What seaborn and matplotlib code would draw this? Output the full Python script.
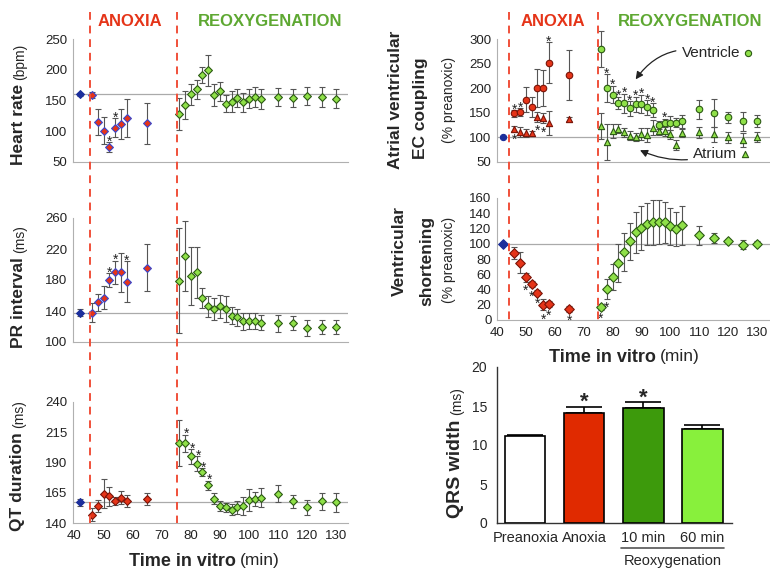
import matplotlib
matplotlib.use("Agg")
import matplotlib.pyplot as plt
from matplotlib.lines import Line2D
import numpy as np
import pandas as pd
import seaborn as sns

# time points (min)
t_pre = [42]
t_anox = [46, 48, 50, 52, 54, 56, 58, 65]
t_reox = [76, 78, 80, 82, 84, 86, 88, 90, 92, 94, 96, 98, 100, 102, 104, 110, 115, 120, 125, 130]

# heart rate (bpm)
hr_pre, hr_pre_err = [160], [3]
hr_anox = [159, 115, 101, 74, 106, 112, 122, 113]
hr_anox_err = [5, 21, 22, 8, 15, 24, 31, 33]
hr_reox = [128, 143, 160, 168, 192, 199, 159, 165, 145, 148, 154, 147, 153, 156, 152, 156, 154, 157, 156, 153]
hr_reox_err = [26, 23, 17, 16, 13, 25, 18, 15, 14, 17, 15, 15, 15, 16, 16, 15, 15, 15, 16, 16]
hr_star = [52, 54]

# PR interval (ms)
pr_pre, pr_pre_err = [138], [4]
pr_anox = [138, 151, 157, 180, 190, 190, 178, 196]
pr_anox_err = [12, 11, 15, 9, 15, 25, 26, 30]
pr_reox = [179, 211, 185, 190, 157, 146, 143, 146, 143, 134, 132, 127, 127, 127, 125, 124, 124, 118, 119, 119]
pr_reox_err = [68, 45, 37, 33, 13, 14, 14, 15, 17, 11, 11, 11, 10, 10, 10, 11, 9, 10, 9, 9]
pr_star = [52, 54, 58]

# QT duration (ms)
qt_pre, qt_pre_err = [157], [3]
qt_anox = [147, 154, 164, 162, 158, 161, 158, 160]
qt_anox_err = [5, 5, 12, 8, 3.5, 5.5, 5, 5]
qt_reox = [206, 206, 195, 189, 182, 171, 160, 154, 153, 151, 153, 154, 159, 160, 161, 164, 158, 153, 158, 157]
qt_reox_err = [19, 7, 6, 6, 3.5, 4, 4.5, 4, 3.5, 4.5, 5.5, 7.5, 9, 6, 8, 7, 5.5, 6, 7, 7.5]
qt_star = [78, 80, 82, 84, 86]

# atrial-ventricular EC coupling (% preanoxic)
ec_pre, ec_pre_err = [100], [2]
ven_anox = [149, 152, 177, 162, 200, 200, 252, 227]
ven_anox_err = [7, 8, 25, 20, 39, 37, 41, 51]
atr_anox = [118, 111, 109, 108, 142, 139, 129, 137]
atr_anox_err = [5, 10, 8, 6, 10, 10, 25, 4]
ven_reox = [280, 200, 187, 170, 169, 159, 167, 168, 161, 156, 125, 130, 129, 130, 133, 157, 150, 141, 133, 134]
ven_reox_err = [36, 28, 18, 13, 20, 15, 16, 19, 15, 14, 8, 8, 14, 9, 13, 20, 29, 11, 19, 12]
atr_reox = [123, 91, 113, 118, 110, 103, 100, 107, 105, 120, 113, 113, 106, 84, 109, 110, 106, 100, 94, 101]
atr_reox_err = [27, 36, 15, 10, 10, 9, 8, 12, 14, 15, 8, 10, 9, 10, 9, 12, 16, 11, 14, 10]
ven_star = [46, 48, 58, 76, 78, 80, 82, 84, 86, 88, 90, 92, 94, 98]
atr_star = [46, 54, 56]

# ventricular shortening (% preanoxic)
vs_pre, vs_pre_err = [100], [1]
vs_anox = [88, 75, 56, 47, 36, 20, 21, 15]
vs_anox_err = [8, 14, 6, 4, 3, 7, 4, 4]
vs_reox = [17.5, 41, 57, 75, 89, 103, 115, 121, 126, 128, 129, 128, 123, 119, 124, 111, 108, 104, 99, 100]
vs_reox_err = [4, 13, 17, 25, 25, 24, 27, 29, 28, 30, 29, 27, 24, 22, 26, 12, 6.5, 2, 5.5, 3.5]
vs_star = [50, 52, 54, 56, 58, 65, 76, 78]

# QRS width (ms)
qrs_labels = ["Preanoxia", "Anoxia", "10 min", "60 min"]
qrs_vals = [11.1, 14.1, 14.7, 12.0]
qrs_err = [0.2, 0.8, 0.8, 0.6]
qrs_star = [False, True, True, False]
qrs_colors = ["#ffffff", "#e02a00", "#3d9a0c", "#88f03c"]

BLUE = "#1c2f9c"
RED = "#e53418"
GREEN = "#8fe048"
DARKGREEN = "#2c5a14"
DASH = "#f0503a"

sns.set_style("white")
plt.rcParams["font.family"] = ["Liberation Sans", "DejaVu Sans"]

W, H = 770, 570
fig = plt.figure(figsize=(W / 100, H / 100), dpi=100)


def px_axes(left, top, right, bottom):
    return fig.add_axes([left / W, 1 - bottom / H, (right - left) / W, (bottom - top) / H])


def style_time_axis(ax, yticks, labels=False, xlim=(39.5, 134)):
    ax.set_xlim(*xlim)
    ax.set_ylim(yticks[0], yticks[-1])
    ax.set_yticks(yticks)
    ax.set_xticks(range(40, 131, 10))
    ax.set_xticks(range(45, 135, 10), minor=True)
    for side in ["top", "right"]:
        ax.spines[side].set_visible(False)
    for side in ["left", "bottom"]:
        ax.spines[side].set_color("#b0b0b0")
        ax.spines[side].set_linewidth(0.8)
    ax.tick_params(which="both", direction="out", length=3, width=0.7, color="#b0b0b0",
                   labelsize=9.5, labelcolor="#222222", pad=2)
    ax.tick_params(axis="y", length=0, pad=4)
    if not labels:
        ax.set_xticklabels([])
    ax.set_xlabel("")
    ax.set_ylabel("")


def draw_series(ax, t, y, err, face, edge, marker, size, cap=2.5):
    ax.errorbar(t, y, yerr=err, fmt="none", ecolor="#555555", elinewidth=0.8,
                capsize=cap, capthick=0.8, zorder=2, clip_on=False)
    sns.scatterplot(x=t, y=y, ax=ax, color=face, edgecolor=edge, marker=marker, s=size,
                    linewidth=0.8, zorder=3, legend=False, clip_on=False)


def add_stars(ax, t, y, err, which, below=False, dx=0):
    for ti, yi, ei in zip(t, y, err):
        if ti in which:
            if below:
                ax.annotate("*", (ti, yi - ei), xytext=(dx, -9.5), textcoords="offset points",
                            ha="center", va="baseline", fontsize=10, color="#222222")
            else:
                ax.annotate("*", (ti, yi + ei), xytext=(dx, -2.5), textcoords="offset points",
                            ha="center", va="baseline", fontsize=10, color="#222222")


def panel(ax, pre, pre_err, anox, anox_err, reox, reox_err, anox_edge, marker, size):
    draw_series(ax, t_pre, pre, pre_err, BLUE, BLUE, marker, size)
    draw_series(ax, t_anox, anox, anox_err, RED, anox_edge, marker, size)
    draw_series(ax, t_reox, reox, reox_err, GREEN, DARKGREEN, marker, size)
    ax.axhline(pre[0], color="#aaaaaa", lw=0.9, zorder=1)


def rot_label(ax, x, ybottom, bold, unit, size=12.5):
    t = fig.text(x / W, 1 - ybottom / H, bold, rotation=90, ha="center", va="bottom",
                 fontsize=size, fontweight="bold")
    ax.annotate(unit, xy=(0.5, 1), xycoords=t, xytext=(1.5, 3), textcoords="offset points",
                rotation=90, ha="center", va="bottom", fontsize=10, annotation_clip=False)


# ---- left column ----
ax_hr = px_axes(73, 39, 348, 162)
panel(ax_hr, hr_pre, hr_pre_err, hr_anox, hr_anox_err, hr_reox, hr_reox_err, "#3848d0", "D", 16)
add_stars(ax_hr, t_anox, hr_anox, hr_anox_err, hr_star)
style_time_axis(ax_hr, [50, 100, 150, 200, 250])
rot_label(ax_hr, 18.5, 165, "Heart rate", "(bpm)")

ax_pr = px_axes(73, 218, 348, 342)
panel(ax_pr, pr_pre, pr_pre_err, pr_anox, pr_anox_err, pr_reox, pr_reox_err, "#3848d0", "D", 16)
add_stars(ax_pr, t_anox, pr_anox, pr_anox_err, pr_star)
style_time_axis(ax_pr, [100, 140, 180, 220, 260])
rot_label(ax_pr, 18.5, 348, "PR interval", "(ms)")

ax_qt = px_axes(73, 402, 348, 523)
panel(ax_qt, qt_pre, qt_pre_err, qt_anox, qt_anox_err, qt_reox, qt_reox_err, "#7a1408", "D", 16)
add_stars(ax_qt, t_reox, qt_reox, qt_reox_err, qt_star, dx=1)
style_time_axis(ax_qt, [140, 165, 190, 215, 240], labels=True)
rot_label(ax_qt, 17.5, 531, "QT duration", "(ms)")

# ---- right column ----
ax_ec = px_axes(497, 39, 770, 162)
ax_ec.axhline(100, color="#aaaaaa", lw=0.9, zorder=1)
draw_series(ax_ec, t_pre, ec_pre, ec_pre_err, BLUE, BLUE, "o", 20)
draw_series(ax_ec, t_anox, atr_anox, atr_anox_err, RED, "#7a1408", "^", 20)
draw_series(ax_ec, t_reox, atr_reox, atr_reox_err, GREEN, DARKGREEN, "^", 20)
draw_series(ax_ec, t_anox, ven_anox, ven_anox_err, RED, "#7a1408", "o", 22)
draw_series(ax_ec, t_reox, ven_reox, ven_reox_err, GREEN, DARKGREEN, "o", 22)
add_stars(ax_ec, t_anox, ven_anox, ven_anox_err, ven_star)
add_stars(ax_ec, t_reox, ven_reox, ven_reox_err, ven_star)
add_stars(ax_ec, t_anox, atr_anox, atr_anox_err, atr_star, below=True)
style_time_axis(ax_ec, [50, 100, 150, 200, 250, 300], xlim=(40, 134.5))
ax_ec.annotate("Ventricle", xy=(88, 218), xytext=(104, 272), fontsize=11, va="center", ha="left",
               arrowprops=dict(arrowstyle="-|>", color="#222222", lw=0.9,
                               connectionstyle="arc3,rad=0.35", shrinkA=2, shrinkB=0),
               annotation_clip=False)
ax_ec.annotate("Atrium", xy=(89.5, 74), xytext=(108, 66), fontsize=11, va="center", ha="left",
               arrowprops=dict(arrowstyle="-|>", color="#222222", lw=0.9,
                               connectionstyle="arc3,rad=-0.2", shrinkA=2, shrinkB=0),
               annotation_clip=False)
sns.scatterplot(x=[127], y=[271], ax=ax_ec, color=GREEN, edgecolor=DARKGREEN, marker="o", s=20,
                linewidth=0.8, legend=False, clip_on=False)
sns.scatterplot(x=[126], y=[66], ax=ax_ec, color=GREEN, edgecolor=DARKGREEN, marker="^", s=20,
                linewidth=0.8, legend=False, clip_on=False)

ax_vs = px_axes(497, 198, 770, 320)
panel(ax_vs, vs_pre, vs_pre_err, vs_anox, vs_anox_err, vs_reox, vs_reox_err, "#7a1408", "D", 24)
add_stars(ax_vs, t_anox, vs_anox, vs_anox_err, vs_star, below=True)
add_stars(ax_vs, t_reox, vs_reox, vs_reox_err, vs_star, below=True)
style_time_axis(ax_vs, [0, 20, 40, 60, 80, 100, 120, 140, 160], labels=True, xlim=(40, 134.5))

for x, y, s, kw in [
    (396, 100, "Atrial ventricular", dict(fontsize=12.5, fontweight="bold")),
    (421, 108, "EC coupling", dict(fontsize=12.5, fontweight="bold")),
    (449, 100, "(% preanoxic)", dict(fontsize=10)),
    (399, 251, "Ventricular", dict(fontsize=12.5, fontweight="bold")),
    (427, 261, "shortening", dict(fontsize=12.5, fontweight="bold")),
    (449, 260, "(% preanoxic)", dict(fontsize=10)),
]:
    fig.text(x / W, 1 - y / H, s, rotation=90, ha="center", va="center", **kw)

# ---- QRS bar chart ----
ax_q = px_axes(497, 367, 732, 523)
qrs_df = pd.DataFrame({"group": qrs_labels, "qrs": qrs_vals})
sns.barplot(data=qrs_df, x="group", y="qrs", hue="group", palette=qrs_colors, width=0.68,
            saturation=1, edgecolor="black", linewidth=1.2, errorbar=None, legend=False,
            ax=ax_q, zorder=3)
ax_q.errorbar(range(len(qrs_vals)), qrs_vals, yerr=[[0] * len(qrs_err), qrs_err], fmt="none",
              ecolor="black", elinewidth=1.2, capsize=13, capthick=1.2, zorder=2)
for i, (v, e, s) in enumerate(zip(qrs_vals, qrs_err, qrs_star)):
    if s:
        ax_q.annotate("*", (i, v + e), xytext=(0, -1), textcoords="offset points",
                      ha="center", va="baseline", fontsize=16, fontweight="bold")
ax_q.set_xlim(-0.48, 3.5)
ax_q.set_ylim(0, 20)
ax_q.set_yticks([0, 5, 10, 15, 20])
for side in ["top", "right"]:
    ax_q.spines[side].set_visible(False)
for side in ["left", "bottom"]:
    ax_q.spines[side].set_color("#333333")
    ax_q.spines[side].set_linewidth(1.0)
ax_q.tick_params(axis="y", direction="out", length=4, width=1, color="#333333", labelsize=10, pad=3)
ax_q.tick_params(axis="x", length=0, labelsize=10.5, pad=6)
ax_q.set_xlabel("")
ax_q.set_ylabel("")
ax_q.plot([1.62, 3.36], [-0.16, -0.16], color="#555555", lw=1.2, clip_on=False,
          transform=ax_q.get_xaxis_transform())
ax_q.text(2.49, -0.245, "Reoxygenation", transform=ax_q.get_xaxis_transform(),
          ha="center", va="center", fontsize=10.5)
rot_label(ax_q, 455, 518, "QRS width", "(ms)", size=14)

# ---- phase dashed lines and headers ----
for ax, x_anox, x_reox, top, bottom in [(ax_hr, 45.2, 75.2, 12, 523), (ax_ec, 44, 74.8, 12, 320)]:
    for xv in (x_anox, x_reox):
        xd = ax.transData.transform((xv, 0))[0] / W
        fig.add_artist(Line2D([xd, xd], [1 - top / H, 1 - bottom / H], color=DASH, lw=1.4,
                              linestyle=(0, (4, 3))))

for x, s, c in [(130, "ANOXIA", RED), (270, "REOXYGENATION", "#5ea832"),
                (553, "ANOXIA", RED), (690, "REOXYGENATION", "#5ea832")]:
    fig.text(x / W, 1 - 22 / H, s, ha="center", va="center", fontsize=12, fontweight="bold",
             color=c)

# x axis titles
for split, y in [(236, 561), (656, 357)]:
    fig.text(split / W, 1 - y / H, "Time in vitro", ha="right", va="center", fontsize=13,
             fontweight="bold")
    fig.text((split + 4) / W, 1 - y / H, "(min)", ha="left", va="center", fontsize=12.5)

fig.savefig("out.png", dpi=100, facecolor="white")
